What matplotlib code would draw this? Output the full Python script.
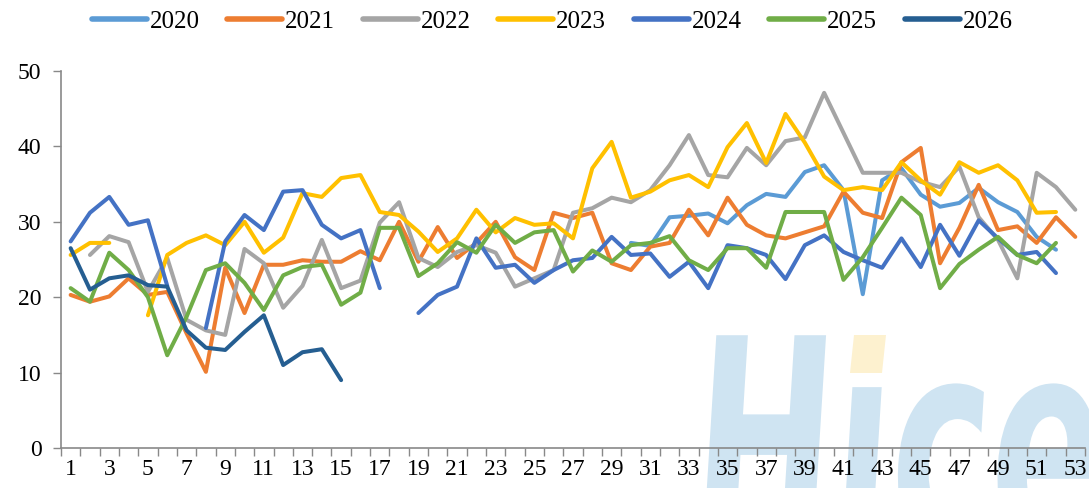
import matplotlib.pyplot as plt
import numpy as np
from matplotlib.textpath import TextPath
from matplotlib.patches import PathPatch, Polygon
from matplotlib.font_manager import FontProperties
from matplotlib.transforms import Affine2D

nan = np.nan
weeks = np.arange(1, 54)

# weekly values (NaN = no data)
y2020 = [nan]*29 + [27.2, 26.8, 30.6, 30.8, 31.1, 29.8, 32.2, 33.7, 33.3, 36.6, 37.5,
                    34.2, 20.4, 35.5, 37.1, 33.6, 32.0, 32.5, 34.5, 32.6, 31.3, 28.0, 26.3, nan]
y2021 = [20.3, 19.4, 20.1, 22.5, 20.3, 20.7, 15.2, 10.1, 23.9, 17.9, 24.3, 24.3, 24.9, 24.7,
         24.7, 26.1, 24.9, 30.0, 24.7, 29.3, 25.2, 27.2, 30.0, 25.3, 23.6, 31.2, 30.5, 31.2,
         24.5, 23.6, 26.7, 27.2, 31.6, 28.2, 33.2, 29.6, 28.2, 27.8, 28.6, 29.4, 34.0, 31.2,
         30.5, 37.9, 39.8, 24.5, 29.2, 34.9, 28.9, 29.4, 27.2, 30.6, 28.0]
y2022 = [nan, 25.6, 28.1, 27.3, 20.7, 25.2, 17.0, 15.6, 15.0, 26.4, 24.5, 18.6, 21.5, 27.6,
         21.2, 22.2, 29.9, 32.6, 25.2, 24.0, 26.0, 26.9, 25.9, 21.4, 22.5, 23.6, 31.2, 31.8,
         33.2, 32.6, 34.2, 37.5, 41.5, 36.2, 35.9, 39.8, 37.5, 40.7, 41.2, 47.1, 41.8, 36.5,
         36.5, 36.5, 35.3, 34.6, 37.3, 30.6, 27.6, 22.5, 36.5, 34.6, 31.6]
y2023 = [25.6, 27.2, 27.2, nan, 17.6, 25.6, 27.2, 28.2, 26.9, 30.0, 25.9, 27.9, 33.8, 33.3,
         35.8, 36.2, 31.3, 30.9, 28.7, 26.0, 27.8, 31.6, 28.6, 30.5, 29.6, 29.8, 27.8, 37.1,
         40.6, 33.2, 34.0, 35.5, 36.2, 34.6, 39.9, 43.1, 37.8, 44.3, 40.5, 36.0, 34.2, 34.6,
         34.2, 37.9, 35.5, 33.6, 37.9, 36.5, 37.5, 35.5, 31.2, 31.3, nan]
y2024 = [27.4, 31.2, 33.3, 29.6, 30.2, 21.5, nan, 15.9, 27.4, 30.9, 28.9, 34.0, 34.2, 29.6,
         27.8, 28.9, 21.2, nan, 17.9, 20.3, 21.4, 27.8, 23.9, 24.3, 21.9, 23.6, 24.9, 25.2,
         28.0, 25.6, 25.8, 22.7, 24.7, 21.2, 26.9, 26.5, 25.6, 22.4, 26.9, 28.2, 26.0, 24.9,
         23.9, 27.8, 24.0, 29.6, 25.5, 30.2, 27.8, 25.6, 26.0, 23.2, nan]
y2025 = [21.2, 19.4, 25.9, 23.6, 20.0, 12.3, 17.4, 23.6, 24.5, 21.9, 18.3, 22.9, 24.0, 24.3,
         19.0, 20.6, 29.2, 29.2, 22.8, 24.5, 27.3, 25.9, 29.6, 27.2, 28.6, 28.9, 23.4, 26.2,
         24.7, 26.9, 27.2, 28.1, 24.9, 23.6, 26.5, 26.5, 23.9, 31.3, 31.3, 31.3, 22.3, 25.3,
         29.2, 33.2, 30.9, 21.2, 24.4, 26.3, 28.0, 25.6, 24.5, 27.2, nan]
y2026 = [26.5, 21.0, 22.5, 22.9, 21.6, 21.4, 15.6, 13.3, 13.0, 15.4, 17.6, 11.0, 12.7, 13.1,
         9.0] + [nan]*38

series = [("2020", y2020, "#5B9BD5"), ("2021", y2021, "#ED7D31"), ("2022", y2022, "#A5A5A5"),
          ("2023", y2023, "#FFC000"), ("2024", y2024, "#4472C4"), ("2025", y2025, "#70AD47"),
          ("2026", y2026, "#255E91")]

plt.rcParams['font.family'] = ['Liberation Serif', 'DejaVu Serif']

fig = plt.figure(figsize=(10.89, 4.88), dpi=100)
ax = fig.add_axes([0.056, 0.082, 0.9403, 0.7725])
ax.patch.set_alpha(0)

# "Hice" watermark behind the chart, in figure pixels
wm = TextPath((0, 0), "H\u0131ce", size=1,
              prop=FontProperties(family="DejaVu Sans", weight="bold"))
wm_tr = Affine2D().skew_deg(6, 0).scale(168, 285).translate(688, -55)
ax.add_patch(PathPatch(wm, transform=wm_tr, facecolor="#cfe4f2", edgecolor="none",
                       zorder=0.5, clip_on=False))
ax.add_patch(Polygon([[850, 115], [882, 115], [886, 153], [854, 153]], closed=True,
                     transform=Affine2D(), facecolor="#fdf1cf", edgecolor="none",
                     zorder=0.5, clip_on=False))

for name, vals, col in series:
    ax.plot(weeks, vals, color=col, lw=2.9, label=name,
            solid_capstyle="round", solid_joinstyle="round")

ax.set_xlim(0.5, 53.5)
ax.set_ylim(0, 50)
ax.set_yticks(range(0, 51, 10))
ax.set_xticks(weeks[::2])
ax.set_xticks(np.arange(0.5, 54, 1), minor=True)
ax.tick_params(axis="x", which="major", length=0, pad=8, labelsize=17)
ax.tick_params(axis="x", which="minor", length=6, color="#898989", width=1)
ax.tick_params(axis="y", length=6, color="#898989", width=1, labelsize=17, pad=8)
for s in ["top", "right"]:
    ax.spines[s].set_visible(False)
for s in ["left", "bottom"]:
    ax.spines[s].set_color("#898989")
    ax.spines[s].set_linewidth(1.2)

leg = fig.legend(loc="upper center", bbox_to_anchor=(0.507, 1.025), ncol=7, frameon=False,
                 fontsize=18, handlelength=2.2, columnspacing=1.1, handletextpad=0.12)
for h in leg.get_lines():
    h.set_linewidth(4)
    h.set_solid_capstyle("round")

fig.savefig("out.png", dpi=100)
